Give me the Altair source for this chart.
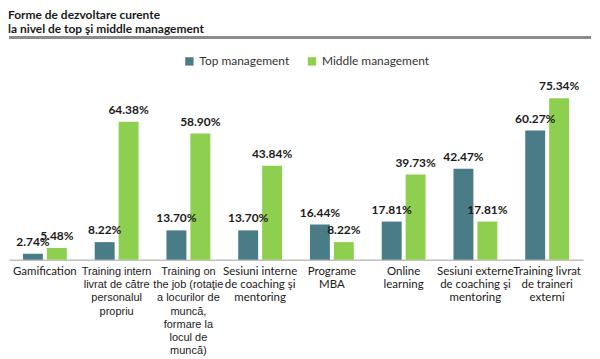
import altair as alt
import pandas as pd

categories = [
    "Gamification",
    "Training intern|livrat de către|personalul|propriu",
    "Training on|the job (rotaţie|a locurilor de|muncă,|formare la|locul de|muncă)",
    "Sesiuni interne|de coaching şi|mentoring",
    "Programe|MBA",
    "Online|learning",
    "Sesiuni externe|de coaching şi|mentoring",
    "Training livrat|de traineri|externi",
]
top_management = [2.74, 8.22, 13.70, 13.70, 16.44, 17.81, 42.47, 60.27]
middle_management = [5.48, 64.38, 58.90, 43.84, 8.22, 39.73, 17.81, 75.34]
series = ["Top management", "Middle management"]
colors = ["#4a7c87", "#8fcf4f"]

rows = []
for c, t, m in zip(categories, top_management, middle_management):
    rows.append({"cat": c, "serie": series[0], "val": t, "lbl": f"{t:.2f}%"})
    rows.append({"cat": c, "serie": series[1], "val": m, "lbl": f"{m:.2f}%"})
df = pd.DataFrame(rows)

FONT = "Lato"
arial_test = "indexof(datum.value, 'Training intern') == 0 || indexof(datum.value, 'Training on') == 0"

x_enc = alt.X(
    "cat:N",
    sort=categories,
    title=None,
    scale=alt.Scale(paddingInner=0, paddingOuter=0),
    axis=alt.Axis(
        labelAngle=0,
        labelExpr="split(datum.label, '|')",
        labelLineHeight=13.2,
        labelFontSize={"condition": {"test": arial_test, "value": 11}, "value": 11.5},
        labelFont={"condition": {"test": arial_test, "value": "Liberation Sans"}, "value": FONT},
        labelColor="#1a1a1a",
        labelPadding=6,
        labelLimit=0,
        labelBaseline="top",
        ticks=False,
        domainColor="#c0c0c0",
        domainWidth=1.5,
    ),
)
xoff = alt.XOffset(
    "serie:N",
    sort=series,
    scale=alt.Scale(paddingInner=0.1667, paddingOuter=0.5833),
)
y_enc = alt.Y("val:Q", scale=alt.Scale(domain=[0, 80]), axis=None)

base = alt.Chart(df).encode(x=x_enc, xOffset=xoff, y=y_enc)

bars = base.mark_bar().encode(
    color=alt.Color(
        "serie:N",
        sort=series,
        scale=alt.Scale(domain=series, range=colors),
        legend=alt.Legend(
            title=None,
            orient="none",
            direction="horizontal",
            legendX=175,
            legendY=-33,
            symbolType="square",
            symbolSize=70,
            symbolStrokeWidth=0,
            labelFont=FONT,
            labelFontSize=12,
            labelColor="#333333",
            columnPadding=16,
        ),
    )
)

texts = base.mark_text(
    dy=-5, baseline="bottom", font=FONT, fontSize=12, fontWeight="bold", color="#1a1a1a"
).encode(text="lbl:N")

rule = alt.Chart(df).mark_rule(color="#8c8c8c", strokeWidth=2).encode(
    x=alt.value(0), x2=alt.value(584), y=alt.value(-51)
)

chart = (
    alt.layer(bars, texts, rule)
    .properties(
        width=576,
        height=172,
        padding={"left": 0, "top": 0, "right": 0, "bottom": 0},
        title=alt.TitleParams(
            ["Forme de dezvoltare curente", "la nivel de top şi middle management"],
            anchor="start",
            font=FONT,
            fontSize=12,
            fontWeight="bold",
            color="#1a1a1a",
            lineHeight=14.5,
            offset=0,
        ),
    )
    .configure_view(stroke=None)
)

chart.save("out.html", embed_options={"renderer": "svg", "actions": False})
